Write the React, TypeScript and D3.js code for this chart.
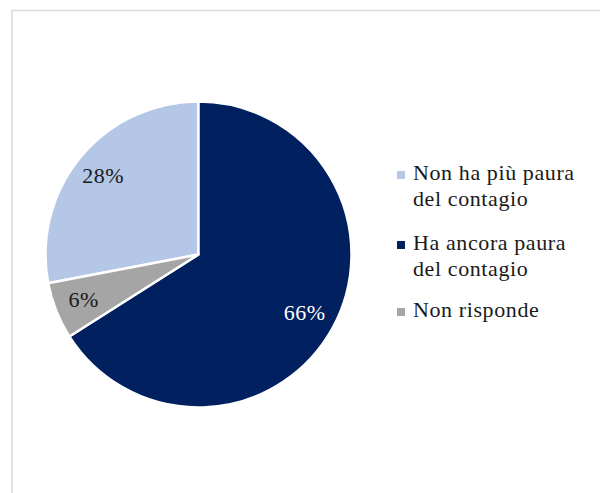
import React from "react";
import * as d3 from "d3";

const categories = ["Non ha più paura del contagio", "Ha ancora paura del contagio", "Non risponde"];
const legendLines = [["Non ha più paura", "del contagio"], ["Ha ancora paura", "del contagio"], ["Non risponde"]];
const values = [28, 66, 6];
const colors = ["#B4C7E7", "#002060", "#A5A5A5"];
const labelColors = ["#1a1a1a", "#ffffff", "#1a1a1a"];

const W = 600;
const H = 493;
const cx = 198.5;
const cy = 254.5;
const R = 153;
const FONT = "Liberation Serif";

export default function App() {
  const total = d3.sum(values);
  const start = -(values[0] / total) * Math.PI * 2;
  const pie = d3
    .pie<number>()
    .sort(null)
    .value((d) => d)
    .startAngle(start)
    .endAngle(start + Math.PI * 2);
  const arcs = pie(values);
  const arc = d3.arc<d3.PieArcDatum<number>>().innerRadius(0).outerRadius(R);
  const labelArc = d3.arc<d3.PieArcDatum<number>>().innerRadius(R * 0.8).outerRadius(R * 0.8);

  const legendY = [180, 250, 317];
  const lineGap = 26;

  return (
    <svg
      width={W}
      height={H}
      style={{ position: "absolute", left: 0, top: 0, background: "#fff" }}
    >
      <rect x={12} y={10.5} width={700} height={600} fill="#fff" stroke="#d9d9d9" strokeWidth={1.5} />
      <g transform={`translate(${cx},${cy})`}>
        {arcs.map((a, i) => (
          <path key={i} d={arc(a) || ""} fill={colors[i]} stroke="#fff" strokeWidth={2.5} strokeLinejoin="round" />
        ))}
        {arcs.map((a, i) => {
          const [lx, ly] = labelArc.centroid(a);
          return (
            <text
              key={"l" + i}
              x={lx - 1}
              y={ly + 7}
              textAnchor="middle"
              fontFamily={FONT}
              fontSize={22}
              letterSpacing={0.5}
              fill={labelColors[i]}
            >
              {Math.round((values[i] / total) * 100)}%
            </text>
          );
        })}
      </g>
      {categories.map((c, i) => (
        <g key={c}>
          <rect x={397} y={legendY[i] - 9} width={8} height={8} fill={colors[i]} />
          <text x={413} y={legendY[i]} fontFamily={FONT} fontSize={22} letterSpacing={0.6} fill="#1a1a1a">
            {legendLines[i].map((ln, j) => (
              <tspan key={j} x={413} y={legendY[i] + j * lineGap}>
                {ln}
              </tspan>
            ))}
          </text>
        </g>
      ))}
    </svg>
  );
}
